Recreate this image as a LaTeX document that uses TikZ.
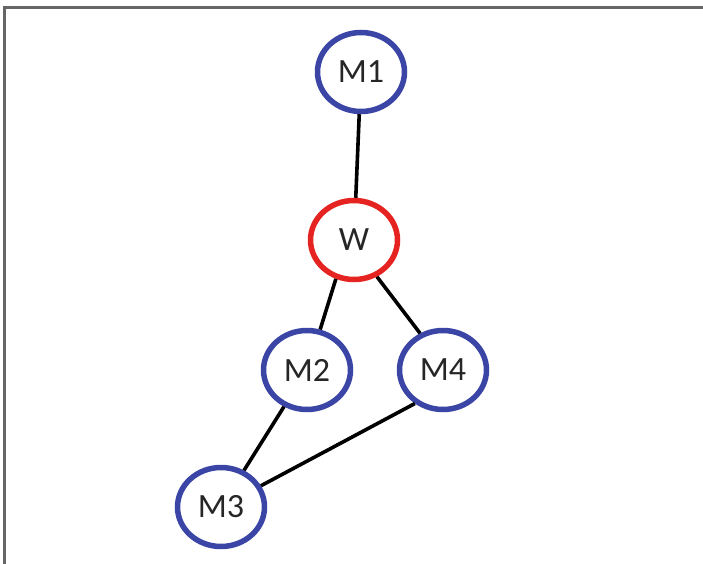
\documentclass[tikz,border=0pt]{standalone}
\usepackage{fontspec}
\setmainfont{Carlito}
\usetikzlibrary{shapes.geometric}
\definecolor{nodeblue}{HTML}{3A45A6}
\definecolor{nodered}{HTML}{E52421}
\definecolor{framegray}{HTML}{666666}
\begin{document}
\begin{tikzpicture}[x=1pt,y=-1pt,
  mnode/.style={ellipse,draw=nodeblue,line width=5.5pt,fill=white,minimum width=87pt,minimum height=79pt,inner sep=0pt,font=\fontsize{34}{34}\selectfont,text=black!85},
  wnode/.style={mnode,draw=nodered},
  edge/.style={draw=black,line width=3.6pt}]
\useasboundingbox (0,0) rectangle (703,564);
\draw[framegray,line width=2.5pt] (4.5,564) -- (4.5,7.5) -- (703,7.5);
\node[mnode] (M1) at (361,72) {M1};
\node[wnode] (W) at (354,240) {W};
\node[mnode] (M2) at (307,370) {M2};
\node[mnode] (M4) at (443,370) {M4};
\node[mnode] (M3) at (221,507) {M3};
\draw[edge] (M1) -- (W);
\draw[edge] (W.-115) -- (M2.72);
\draw[edge] (W.-58) -- (M4.122);
\draw[edge] (M2) -- (M3);
\draw[edge] (M4.-130) -- (M3.28);
\end{tikzpicture}
\end{document}
